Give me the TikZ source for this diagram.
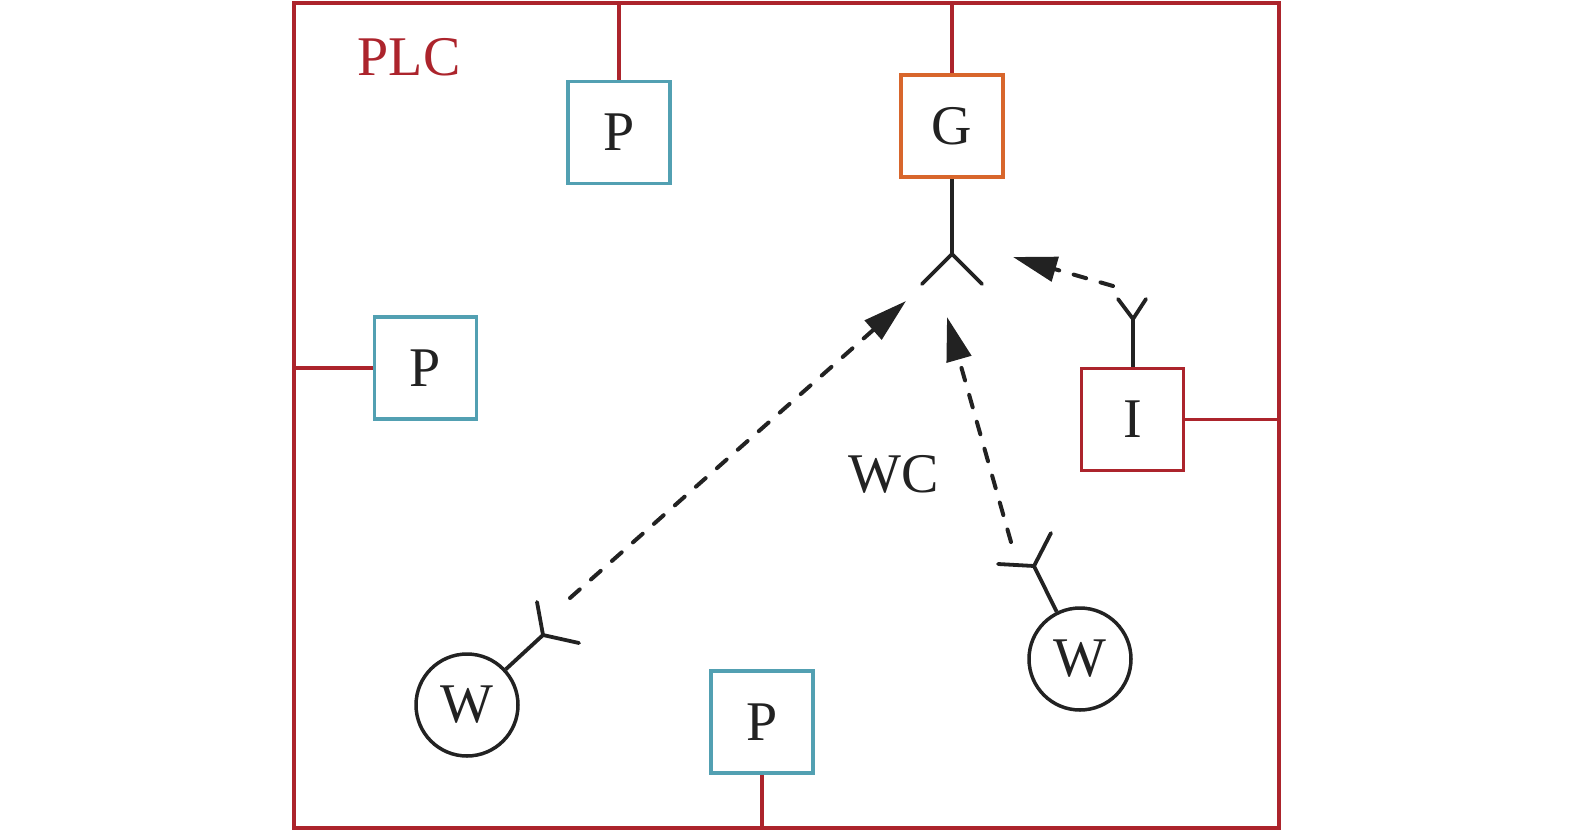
\documentclass[tikz,border=0pt]{standalone}
\usepackage{fontspec}
\setmainfont{Liberation Serif}
\usetikzlibrary{arrows.meta}
\definecolor{plcred}{RGB}{172,36,44}
\definecolor{pteal}{RGB}{82,160,178}
\definecolor{gorange}{RGB}{216,102,44}
\definecolor{ink}{RGB}{34,34,34}
\tikzset{
  sq/.style={draw,line width=3.5pt,minimum size=102pt,inner sep=0pt,font=\fontsize{56}{60}\selectfont,text=ink},
  pbox/.style={sq,draw=pteal},
  wnode/.style={circle,draw=ink,line width=3.5pt,minimum size=102pt,inner sep=0pt,font=\fontsize{56}{60}\selectfont,text=ink},
  redline/.style={draw=plcred,line width=3.2pt},
  ant/.style={draw=ink,line width=3.8pt,line cap=round},
  wave/.style={draw=ink,line width=4pt,line cap=round,dash pattern=on 13pt off 15pt,-{Triangle[length=44pt,width=25pt]}},
  lbl/.style={font=\fontsize{56}{60}\selectfont}
}
\begin{document}
\begin{tikzpicture}[x=1pt,y=-1pt]
\useasboundingbox (0,0) rectangle (1575,831);
% outer PLC frame
\node[redline,minimum width=985pt,minimum height=825pt,inner sep=0pt] (plc) at (786.5,415.5) {};
\node[lbl,text=plcred] (plclbl) at (409,57) {PLC};
\node[lbl,text=ink] (wc) at (894,474) {WC};
% boxes
\node[pbox] (ptop) at (619,132.5) {P};
\node[sq,draw=gorange] (g) at (952,126) {G};
\node[pbox] (pleft) at (425.5,368) {P};
\node[sq,draw=plcred] (i) at (1132.5,419.5) {I};
\node[pbox] (pbot) at (762,722) {P};
\node[wnode] (w1) at (467,705) {W};
\node[wnode] (w2) at (1080,659) {W};
% red connectors
\draw[redline] (ptop.north) -- (ptop.north |- plc.north);
\draw[redline] (g.north) -- (g.north |- plc.north);
\draw[redline] (pleft.west) -- (pleft.west -| plc.west);
\draw[redline] (i.east) -- (i.east -| plc.east);
\draw[redline] (pbot.south) -- (pbot.south |- plc.south);
% antennas
\coordinate (ga) at (952,254);
\coordinate (gal) at (922,284);
\coordinate (gar) at (982,284);
\draw[ant,line cap=butt] (g.south) -- (ga);
\draw[ant] (gal) -- (ga) -- (gar);
\coordinate (ia) at (1133,319);
\coordinate (ial) at (1118,299);
\coordinate (iar) at (1146,299);
\draw[ant,line cap=butt] (i.north -| ia) -- (ia);
\draw[ant] (ial) -- (ia) -- (iar);
\coordinate (w1a) at (543,635);
\coordinate (w1al) at (537,602);
\coordinate (w1ar) at (579,643);
\draw[ant,line cap=butt] (w1) -- (w1a);
\draw[ant] (w1al) -- (w1a) -- (w1ar);
\coordinate (w2a) at (1034,566);
\coordinate (w2al) at (998,564);
\coordinate (w2ar) at (1051,533);
\draw[ant,line cap=butt] (w2) -- (w2a);
\draw[ant] (w2al) -- (w2a) -- (w2ar);
% wireless links
\coordinate (s1) at (570,598);
\coordinate (t1) at (906,301);
\coordinate (s2) at (1011,542);
\coordinate (t2) at (947,317);
\coordinate (s3) at (1113,286);
\coordinate (t3) at (1013,257);
\draw[wave] (s1) -- (t1);
\draw[wave] (s2) -- (t2);
\draw[wave] (s3) -- (t3);
\end{tikzpicture}
\end{document}
